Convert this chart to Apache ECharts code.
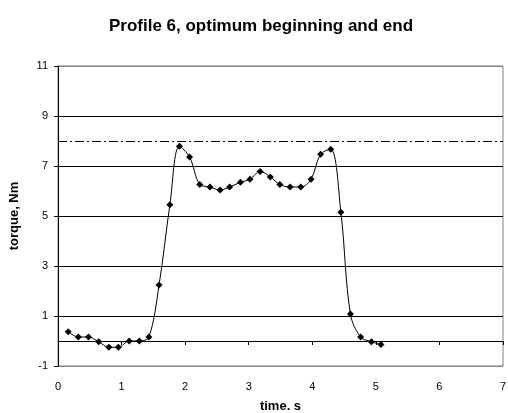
<!DOCTYPE html>
<html>
<head>
<meta charset="utf-8">
<script src="https://cdn.jsdelivr.net/npm/echarts@6/dist/echarts.min.js"></script>
<style>
  html, body { margin: 0; padding: 0; background: #fff; }
  #chart { width: 508px; height: 413px; }
</style>
</head>
<body>
<div id="chart"></div>
<script>
// measured profile, time in s, torque in Nm
const timeValues = [
  0.16, 0.32, 0.48, 0.64, 0.80, 0.95, 1.12, 1.28, 1.43, 1.59,
  1.76, 1.91, 2.07, 2.23, 2.39, 2.55, 2.70, 2.87, 3.02, 3.18,
  3.34, 3.49, 3.65, 3.82, 3.98, 4.13, 4.29, 4.45, 4.60, 4.76,
  4.93, 5.08
]
const torqueValues = [
  0.37, 0.16, 0.16, -0.03, -0.25, -0.25, 0.0, 0.0, 0.16, 2.24,
  5.45, 7.79, 7.36, 6.26, 6.16, 6.04, 6.16, 6.35, 6.47, 6.78,
  6.56, 6.26, 6.16, 6.16, 6.47, 7.47, 7.67, 5.15, 1.08, 0.16,
  -0.03, -0.14
]
const limitTorque = 8
const yTicks = [-1, 1, 3, 5, 7, 9, 11]

const points = timeValues.map((t, i) => [t, torqueValues[i]])
const font = '"Liberation Sans", Arial, sans-serif'

const chart = echarts.init(document.getElementById('chart'))

chart.setOption({
  animation: false,
  title: {
    text: 'Profile 6, optimum beginning and end',
    left: 256,
    textAlign: 'center',
    top: 13,
    textStyle: { fontFamily: font, fontSize: 17, fontWeight: 'bold', color: '#000' }
  },
  grid: {
    left: 58,
    right: 5,
    top: 66,
    bottom: 47,
    outerBoundsMode: 'none',
    containLabel: false,
    show: true,
    borderColor: '#808080',
    borderWidth: 1,
    backgroundColor: '#fff'
  },
  xAxis: {
    type: 'value',
    min: 0,
    max: 7,
    interval: 1,
    name: 'time. s',
    nameLocation: 'middle',
    nameGap: 34,
    nameTextStyle: { fontFamily: font, fontSize: 13, fontWeight: 'bold', color: '#000' },
    axisLine: { onZero: true, lineStyle: { color: '#000', width: 1 } },
    axisTick: { show: true, length: 4, lineStyle: { color: '#000' } },
    axisLabel: { margin: 15, fontFamily: font, fontSize: 11, color: '#000' },
    splitLine: { show: false }
  },
  yAxis: {
    type: 'value',
    min: yTicks[0],
    max: yTicks[yTicks.length - 1],
    interval: 2,
    name: 'torque, Nm',
    nameLocation: 'middle',
    nameGap: 37,
    nameRotate: 90,
    nameTextStyle: { fontFamily: font, fontSize: 13, fontWeight: 'bold', color: '#000' },
    axisLine: { show: true, onZero: false, lineStyle: { color: '#000', width: 1 } },
    axisTick: { show: true, length: 4, lineStyle: { color: '#000' } },
    axisLabel: { margin: 10, fontFamily: font, fontSize: 11, color: '#000' },
    splitLine: {
      show: true,
      lineStyle: {
        color: ['#808080', '#000', '#000', '#000', '#000', '#000', '#808080'],
        width: 1
      }
    }
  },
  series: [
    {
      type: 'line',
      data: points,
      smooth: 0.35,
      symbol: 'diamond',
      symbolSize: 7,
      itemStyle: { color: '#000' },
      lineStyle: { color: '#000', width: 1 },
      markLine: {
        silent: true,
        symbol: 'none',
        label: { show: false },
        lineStyle: { color: '#000', width: 1, type: [9, 3, 2, 3] },
        data: [{ yAxis: limitTorque }]
      }
    }
  ]
})
</script>
</body>
</html>
